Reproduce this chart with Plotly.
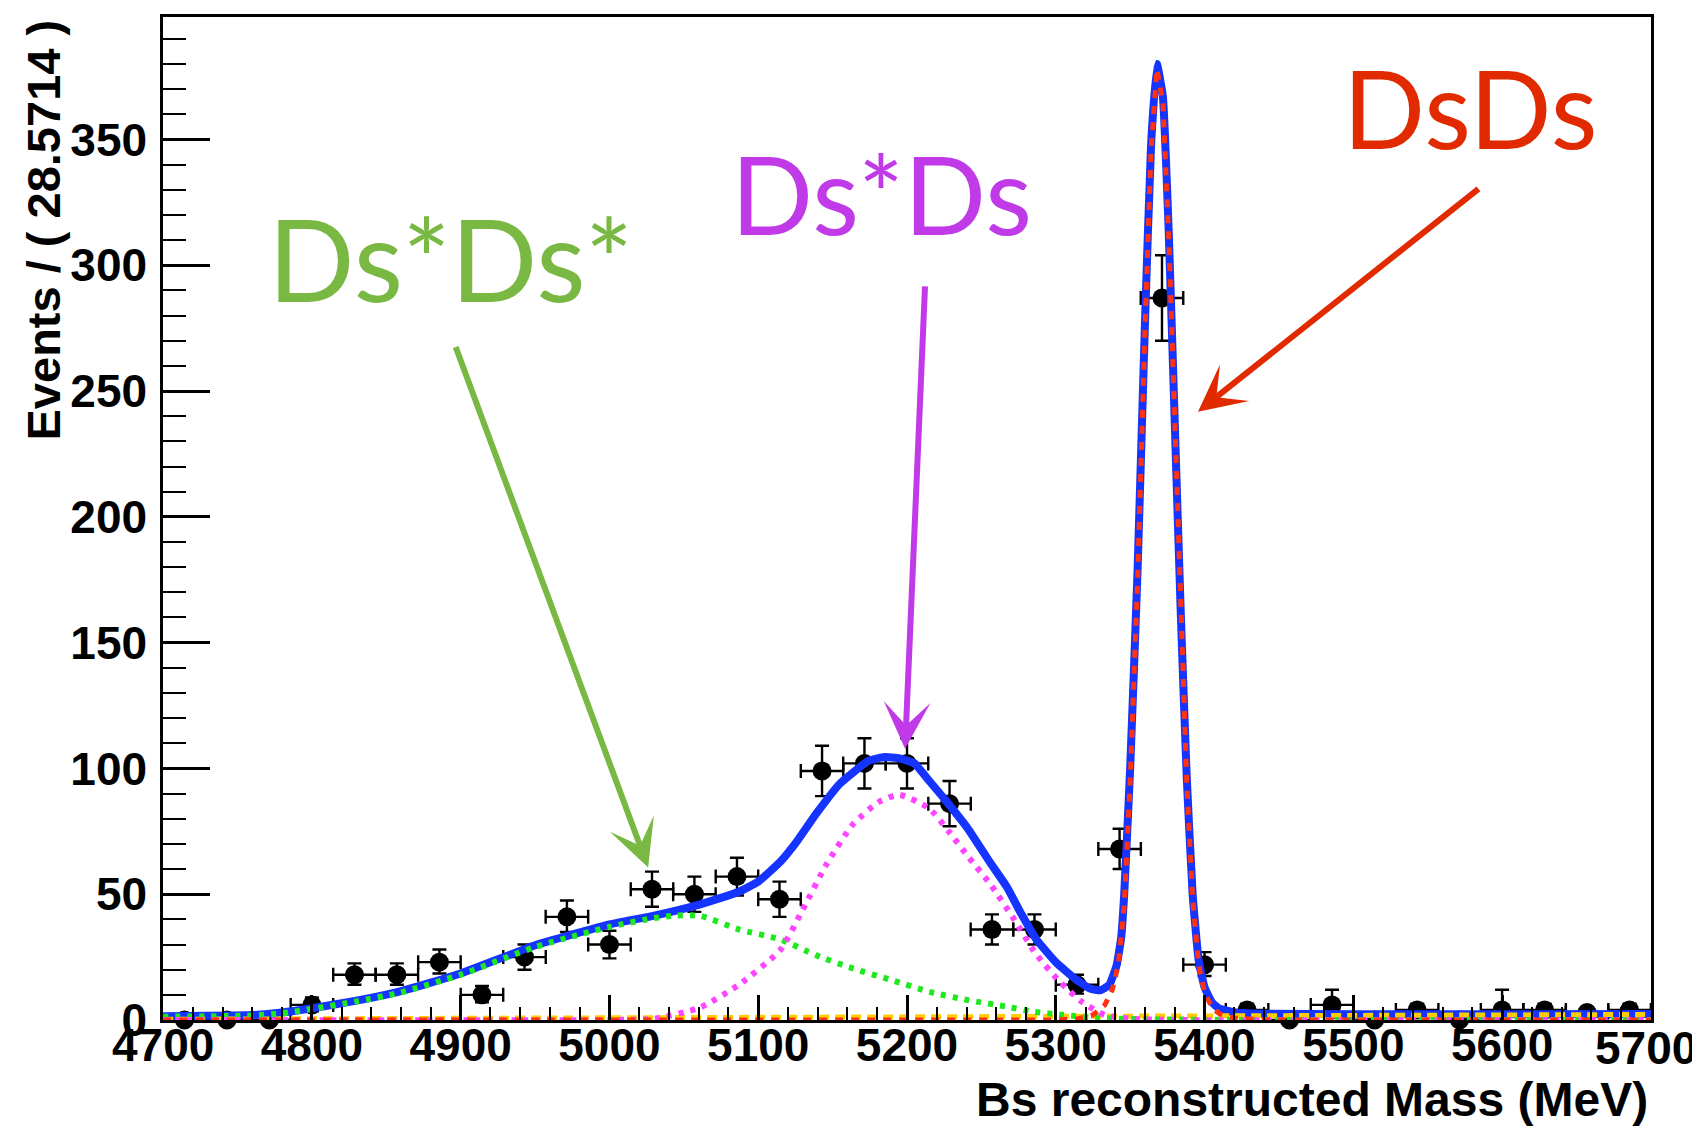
import plotly.graph_objects as go

# ---------------- data ----------------
bin_centers = [4714.3, 4742.9, 4771.4, 4800.0, 4828.6, 4857.1, 4885.7, 4914.3, 4942.9, 4971.4,
               5000.0, 5028.6, 5057.1, 5085.7, 5114.3, 5142.9, 5171.4, 5200.0, 5228.6, 5257.1,
               5285.7, 5314.3, 5342.9, 5371.4, 5400.0, 5428.6, 5457.1, 5485.7, 5514.3, 5542.9,
               5571.4, 5600.0, 5628.6, 5657.1, 5685.7]
counts = [0, 0, 0, 6, 18, 18, 23, 10, 25, 41,
          30, 52, 50, 57, 48, 99, 102, 102, 86, 36,
          36, 14, 68, 287, 22, 4, 0, 6, 0, 4,
          0, 4, 4, 3, 4]
err_hi = [1.1, 1.1, 1.1, 3, 4.5, 4.5, 5, 3.5, 5, 6.5,
          5.5, 7, 7, 7.5, 7, 10, 10, 10, 9, 6,
          6, 4, 8, 17, 5, 2.5, 1.1, 6, 1.1, 2.5,
          1.1, 8, 2.5, 2, 2.5]
err_lo = [0, 0, 0, 2.5, 4, 4, 4.5, 3, 5, 6,
          5.5, 7, 7, 7.5, 7, 10, 10, 10, 9, 6,
          6, 3.5, 8, 17, 4.5, 2, 0, 5, 0, 2,
          0, 4, 2, 1.5, 2]
half_bin = 14.2857

# total fit (blue)
total_x = [4700, 4730, 4760, 4780, 4800, 4830, 4860, 4900, 4950, 5000, 5030, 5061, 5087, 5100,
           5115, 5126, 5139, 5155, 5174, 5185, 5195, 5205, 5215, 5225, 5241, 5256, 5267, 5277,
           5287, 5300, 5313, 5323, 5330, 5336, 5341, 5344, 5346, 5350, 5355, 5360, 5364, 5368,
           5372, 5376, 5380, 5384, 5388, 5392, 5396, 5400, 5405, 5410, 5420, 5440, 5500, 5600, 5700]
total_y = [1.5, 1.7, 2.0, 3.0, 4.7, 7.7, 11.5, 18.5, 29.7, 38, 41.5, 46, 51, 55,
           63, 71, 82, 94, 103, 104.5, 104, 102, 95, 88, 76, 62.5, 53, 42,
           32, 23, 16.4, 12.5, 11.8, 14, 22, 33, 50, 100, 179, 278, 347, 380,
           367, 312, 237, 162, 97, 50, 24, 13, 7, 4.5, 3, 2.5, 2.3, 2.3, 2.4]

# DsDs component (red dashed)
dsds_x = [4700, 5300, 5315, 5325, 5333, 5338, 5342, 5346, 5350, 5355, 5360, 5364, 5368, 5372,
          5376, 5380, 5384, 5388, 5392, 5396, 5400, 5405, 5410, 5420, 5440, 5700]
dsds_y = [0, 0, 0.5, 2, 6, 12, 22, 45, 95, 175, 275, 345, 378, 365,
          310, 235, 160, 95, 48, 22, 11, 5, 2.5, 0.8, 0, 0]

# Ds*Ds component (magenta dotted)
dsstards_x = [4700, 5000, 5030, 5061, 5087, 5115, 5130, 5146, 5164, 5182, 5195, 5215, 5228,
              5241, 5256, 5272, 5287, 5303, 5318, 5333, 5350, 5380, 5700]
dsstards_y = [0, 0, 0.5, 5, 14, 28, 44, 62, 78, 87, 89.5, 84, 75,
              65, 54, 40, 26, 15, 7, 2, 0.5, 0, 0]

# Ds*Ds* component (green dotted)
dsstar2_x = [4700, 4760, 4780, 4800, 4830, 4860, 4900, 4950, 5000, 5030, 5045, 5061, 5087,
             5115, 5139, 5164, 5190, 5215, 5241, 5267, 5285, 5305, 5330, 5360, 5400, 5450, 5700]
dsstar2_y = [1.3, 1.8, 2.7, 4.4, 7.4, 11, 18, 29, 37, 40.5, 41.5, 41.4, 36,
             32, 25.7, 20.4, 15.8, 11.2, 7.9, 5.3, 3.3, 2, 0.8, 0.3, 0.1, 0, 0]

# combinatorial background (yellow dashed)
bkg_x = [4700, 5200, 5700]
bkg_y = [0.3, 1.0, 2.2]

x_ticks = [4700, 4800, 4900, 5000, 5100, 5200, 5300, 5400, 5500, 5600, 5700]
labels = ["Ds*Ds*", "Ds*Ds", "DsDs"]
label_colors = ["#79b943", "#c03ae8", "#e12a00"]

# ---------------- figure ----------------
fig = go.Figure()

fig.add_trace(go.Scatter(
    x=bin_centers, y=counts, mode="markers",
    marker=dict(color="black", size=19, symbol="circle"),
    error_y=dict(type="data", symmetric=False, array=err_hi, arrayminus=err_lo,
                 color="black", thickness=2.4, width=7),
    error_x=dict(type="constant", value=half_bin, color="black", thickness=2.4, width=7),
    cliponaxis=False, hoverinfo="x+y"))

fig.add_trace(go.Scatter(x=total_x, y=total_y, mode="lines",
                         line=dict(color="#1534ff", width=8, shape="spline", smoothing=0.4)))
fig.add_trace(go.Scatter(x=bkg_x, y=bkg_y, mode="lines",
                         line=dict(color="#ffcc00", width=5, dash="10px,6px")))
fig.add_trace(go.Scatter(x=dsstar2_x, y=dsstar2_y, mode="lines",
                         line=dict(color="#1ee81e", width=6, dash="5px,7px",
                                   shape="spline", smoothing=0.6)))
fig.add_trace(go.Scatter(x=dsstards_x, y=dsstards_y, mode="lines",
                         line=dict(color="#ff44ff", width=6, dash="5px,7px",
                                   shape="spline", smoothing=0.6)))
fig.add_trace(go.Scatter(x=dsds_x, y=dsds_y, mode="lines",
                         line=dict(color="#ff3311", width=5, dash="8px,8px")))

label_family = "Liberation Sans, Arial, sans-serif"
axis_font = dict(family=label_family, size=46, color="black", weight="bold")

# last label ("5700") is drawn as an annotation so it can sit flush with the page edge
x_ticktext = [str(v) for v in x_ticks[:-1]] + [""]

fig.update_xaxes(range=[4699.9, 5700.1], showgrid=False, zeroline=False,
                 showline=True, linecolor="black", linewidth=2.5, mirror=True,
                 ticks="inside", ticklen=25, tickwidth=2.5, tickcolor="black",
                 tickmode="array", tickvals=x_ticks, ticktext=x_ticktext,
                 tickfont=axis_font, ticklabelstandoff=-17,
                 minor=dict(dtick=20, tick0=4700, ticks="inside", ticklen=13,
                            tickwidth=2, tickcolor="black", showgrid=False))
fig.update_yaxes(range=[0, 398.7], showgrid=False, zeroline=False,
                 showline=True, linecolor="black", linewidth=2.5, mirror=True,
                 ticks="inside", ticklen=47, tickwidth=2.5, tickcolor="black",
                 tick0=0, dtick=50, tickfont=axis_font, ticklabelstandoff=4,
                 minor=dict(dtick=10, tick0=0, ticks="inside", ticklen=23,
                            tickwidth=2, tickcolor="black", showgrid=False))

# the page body has an 8px margin; target plot frame in page pixels
OFF = 8
W, H = 1700 - OFF, 1126 - OFF
L, R, T, B = 163, 1651, 14, 1020


def px(xp):
    return (xp - L) / (R - L)


def py(yp):
    return (B - yp) / (B - T)


annotations = []
annotations.append(dict(text=str(x_ticks[-1]), xref="paper", yref="paper",
                        x=px(1699), y=py(1048), xanchor="right", yanchor="middle",
                        showarrow=False, font=axis_font))
annotations.append(dict(text="Bs reconstructed Mass (MeV)", xref="paper", yref="paper",
                        x=px(1650), y=py(1100), xanchor="right", yanchor="middle",
                        showarrow=False, font=dict(family=label_family,
                                                   size=48, color="black", weight="bold")))
annotations.append(dict(text="Events / ( 28.5714 )", xref="paper", yref="paper",
                        x=px(43), y=py(15), xanchor="center", yanchor="top", textangle=-90,
                        showarrow=False, font=dict(family=label_family,
                                                   size=47, color="black", weight="bold")))
label_pos = [(450, 255, 114), (881, 191, 108), (1470, 104, 108)]
for t, c, (lx, ly, fs) in zip(labels, label_colors, label_pos):
    annotations.append(dict(text=t, xref="paper", yref="paper", x=px(lx), y=py(ly),
                            xanchor="center", yanchor="middle", showarrow=False,
                            font=dict(family="Lato, Noto Sans, sans-serif", size=fs, color=c)))
arrows = [(5026, 60.6, -193, -522, label_colors[0], 6),
          (5198.7, 107.8, 20, -464, label_colors[1], 6),
          (5395.6, 241.8, 282, -224, label_colors[2], 6)]
for ax_, ay_, dx, dy, c, w in arrows:
    annotations.append(dict(text="", x=ax_, y=ay_, xref="x", yref="y", ax=dx, ay=dy,
                            showarrow=True, arrowhead=3, arrowsize=1.3, arrowwidth=w,
                            arrowcolor=c, standoff=0))

fig.update_layout(width=W, height=H, margin=dict(l=L - OFF, r=W - (R - OFF), t=T - OFF,
                                                 b=H - (B - OFF)),
                  paper_bgcolor="white", plot_bgcolor="white", showlegend=False,
                  annotations=annotations,
                  shapes=[dict(type="line", xref="paper", yref="paper",
                               x0=px(1697), x1=px(1697), y0=py(1126), y1=py(0),
                               line=dict(color="#aaaaaa", width=2))])

fig.write_html("out.html")
